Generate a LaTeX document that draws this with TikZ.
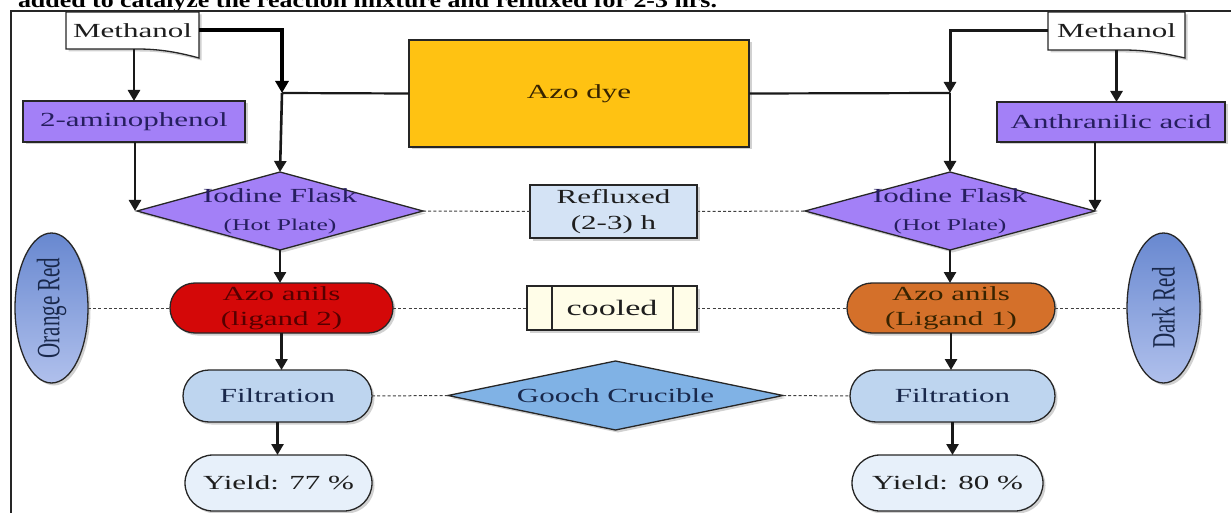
\documentclass[tikz,border=0pt]{standalone}
\usepackage{fontspec}
\setmainfont{Liberation Serif}[FakeStretch=1.55]
\newfontfamily\plainserif{Liberation Serif}
\usetikzlibrary{arrows.meta,shapes.geometric,shapes.misc,shadows,calc,backgrounds}
\definecolor{purp}{RGB}{163,128,247}
\definecolor{goldbox}{RGB}{255,194,18}
\definecolor{redanil}{RGB}{212,8,8}
\definecolor{oranil}{RGB}{212,112,42}
\definecolor{reflux}{RGB}{212,227,245}
\definecolor{coolfill}{RGB}{255,253,232}
\definecolor{filtfill}{RGB}{190,213,239}
\definecolor{goochfill}{RGB}{128,178,229}
\definecolor{yieldfill}{RGB}{231,240,250}
\definecolor{ellA}{RGB}{104,136,208}
\definecolor{ellB}{RGB}{176,192,236}
\definecolor{navytxt}{RGB}{38,30,95}
\definecolor{bluetxt}{RGB}{25,40,75}
\definecolor{maroontxt}{RGB}{85,0,0}
\definecolor{browntxt}{RGB}{55,35,0}
\definecolor{darktxt}{RGB}{30,30,30}
\begin{document}
\begin{tikzpicture}[x=1pt,y=-1pt,
  every node/.style={font=\fontsize{20}{24}\selectfont, inner sep=0pt, outer sep=0pt},
  shadowed/.style={drop shadow={shadow xshift=2.5pt,shadow yshift=-2.5pt,opacity=.3,fill=black!60}},
  shp/.style={draw=black!85, line width=1.3pt, shadowed},
  boxnode/.style={shp, rectangle, align=center},
  flask/.style={shp, diamond, fill=purp, minimum width=286pt, minimum height=78pt},
  flasklbl/.style={align=center, text=navytxt},
  pill/.style={shp, rounded rectangle, align=center},
  oval/.style={shp, ellipse, top color=ellA, bottom color=ellB, minimum width=73pt, minimum height=150pt},
  arr/.style={line width=2.6pt, draw=black!90, -{Triangle[width=12pt,length=11pt]}},
  thickarr/.style={line width=4pt, draw=black, -{Triangle[width=13pt,length=12pt]}},
  link/.style={line width=2.2pt, draw=black!90},
  dotline/.style={line width=1pt, draw=black!75, dash pattern=on 3pt off 2.2pt},
  docline/.style={draw=black!85, line width=1.3pt, fill=white, shadowed}
]
\useasboundingbox (0,0) rectangle (1231,513);
\clip (0,0) rectangle (1231,513);

% header text (cut off by the page edge, as in the reference)
\node[anchor=base west] (hdr) at (18,7.5) {\resizebox{699pt}{15pt}{\bfseries added to catalyze the reaction mixture and refluxed for 2-3 hrs.}};

% frame
\draw[line width=1.3pt, draw=black!85] (11,513) -- (11,11) -- (1231,11);

% methanol nodes
\node[minimum width=133pt, minimum height=37pt, text=darktxt] (m1) at (132.5,30.5) {Methanol};
\node[minimum width=137pt, minimum height=38pt, text=darktxt] (m2) at (1116.5,31) {Methanol};
\begin{pgfonlayer}{background}
\path[docline] (m1.north west) -- (m1.north east) -- ([yshift=-9pt]m1.south east)
  .. controls ([xshift=-22pt,yshift=-3pt]m1.south east) and ([xshift=-40pt]m1.south east) .. ([xshift=-62pt]m1.south east)
  -- (m1.south west) -- cycle;
\path[docline] (m2.north west) -- (m2.north east) -- ([yshift=-8pt]m2.south east)
  .. controls ([xshift=-22pt,yshift=-3pt]m2.south east) and ([xshift=-40pt]m2.south east) .. ([xshift=-62pt]m2.south east)
  -- (m2.south west) -- cycle;
\end{pgfonlayer}

% boxes
\node[boxnode, fill=purp, minimum width=222pt, minimum height=41pt, text=navytxt] (a1) at (134,121.5) {2-aminophenol};
\node[boxnode, fill=purp, minimum width=228pt, minimum height=40pt, text=navytxt] (an) at (1111,122) {Anthranilic acid};
\node[boxnode, fill=goldbox, minimum width=340pt, minimum height=107pt, text=browntxt] (dye) at (579,93.5) {Azo dye};

% flasks
\node[flask, label={[flasklbl]center:{Iodine Flask\\[4pt]{\fontsize{16.5}{20}\selectfont (Hot Plate)}}}] (f1) at (280,211) {};
\node[flask, minimum width=290pt, label={[flasklbl]center:{Iodine Flask\\[4pt]{\fontsize{16.5}{20}\selectfont (Hot Plate)}}}] (f2) at (950,211) {};

\node[boxnode, fill=reflux, minimum width=167pt, minimum height=53pt, text=darktxt, font=\fontsize{20}{26}\selectfont] (rf) at (613.5,211.5) {Refluxed\\(2-3) h};

% colour ellipses
\node[oval] (e1) at (51.5,308) {\rotatebox{90}{\scalebox{1}[1.55]{\fontsize{21}{24}\plainserif\selectfont\color{bluetxt}Orange Red}}};
\node[oval] (e2) at (1163.5,308) {\rotatebox{90}{\scalebox{1}[1.55]{\fontsize{21}{24}\plainserif\selectfont\color{bluetxt}Dark Red}}};

% azo anils
\node[pill, fill=redanil, minimum width=223pt, minimum height=50pt, text=maroontxt, font=\fontsize{20}{25}\selectfont] (l2) at (281.5,308) {Azo anils\\(ligand 2)};
\node[pill, fill=oranil, minimum width=208pt, minimum height=50pt, text=browntxt, font=\fontsize{20}{25}\selectfont] (l1) at (951,308) {Azo anils\\(Ligand 1)};

% cooled
\node[boxnode, fill=coolfill, minimum width=170pt, minimum height=44pt, text=darktxt, font=\fontsize{22}{26}\selectfont] (cl) at (612,308) {cooled};
\draw[draw=black!85, line width=1.3pt] ([xshift=25pt]cl.north west) -- ([xshift=25pt]cl.south west);
\draw[draw=black!85, line width=1.3pt] ([xshift=-24pt]cl.north east) -- ([xshift=-24pt]cl.south east);

% filtration
\node[pill, fill=filtfill, minimum width=189pt, minimum height=52pt, text=bluetxt] (fl1) at (277.5,396) {Filtration};
\node[pill, fill=filtfill, minimum width=205pt, minimum height=52pt, text=bluetxt] (fl2) at (952.5,396) {Filtration};
\node[shp, diamond, fill=goochfill, minimum width=335pt, minimum height=69pt, label={[text=bluetxt]center:{Gooch Crucible}}] (gc) at (615.5,395.5) {};

% yields
\node[pill, fill=yieldfill, minimum width=187pt, minimum height=56pt, text=darktxt] (y1) at (278.5,483) {Yield: 77 \%};
\node[pill, fill=yieldfill, minimum width=191pt, minimum height=56pt, text=darktxt] (y2) at (947.5,483) {Yield: 80 \%};

% junctions
\coordinate (j1) at (282,93);
\coordinate (j2) at (950,93);

% connectors
\draw[arr] (a1.north |- m1.south) -- (a1.north);
\draw[thickarr] (m1.east) -| (j1);
\draw[arr] (j1) -- (f1.north);
\draw[link] (j1) -- (dye.west);
\draw[link] (dye.east) -- (j2);
\draw[arr, line width=3pt] (m2.west) -| (j2);
\draw[arr] (j2) -- (f2.north);
\draw[arr] (m2.south) -- (m2.south |- an.north);
\draw[arr] ([xshift=1pt]a1.south) -- ([xshift=1pt]a1.south |- f1.west);
\draw[arr] (f2.east |- an.south) -- (f2.east);
\draw[arr] (f1.south) -- (f1.south |- l2.north);
\draw[arr] (f2.south) -- (f2.south |- l1.north);
\draw[arr] (l2.south) -- (l2.south |- fl1.north);
\draw[arr] (l1.south) -- (l1.south |- fl2.north);
\draw[arr] (fl1.south) -- (fl1.south |- y1.north);
\draw[arr] (fl2.south) -- (fl2.south |- y2.north);

% dotted links
\draw[dotline] (f1.east) -- (rf.west);
\draw[dotline] (rf.east) -- (f2.west);
\draw[dotline] (e1.east) -- (l2.west);
\draw[dotline] (l2.east) -- (cl.west);
\draw[dotline] (cl.east) -- (l1.west);
\draw[dotline] (l1.east) -- (e2.west);
\draw[dotline] (fl1.east) -- (gc.west);
\draw[dotline] (gc.east) -- (fl2.west);
\end{tikzpicture}
\end{document}
